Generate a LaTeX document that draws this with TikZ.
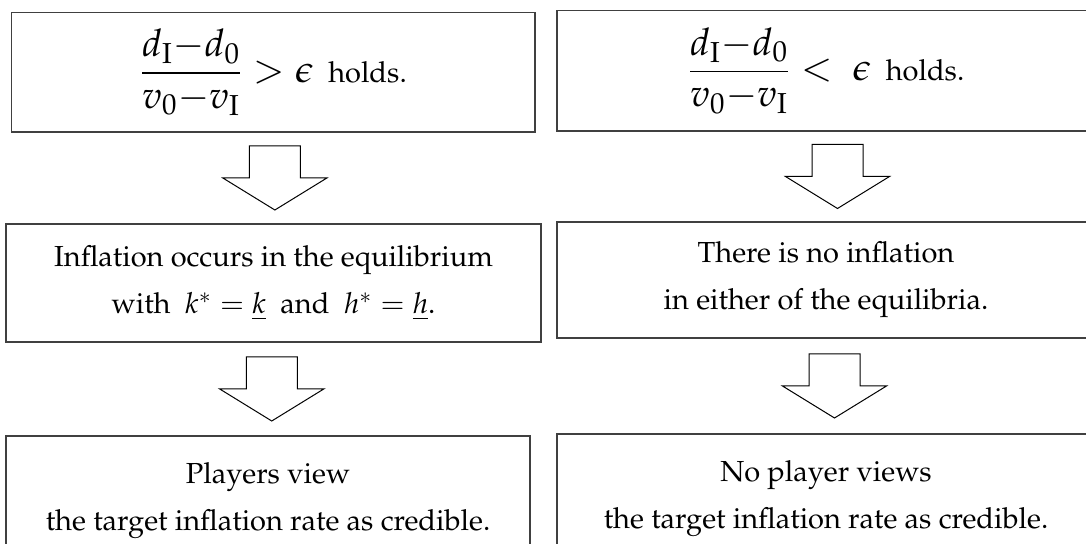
\documentclass[tikz,border=0pt]{standalone}
\usepackage[T1]{fontenc}
\usepackage{mathpazo}
\usepackage{amsmath}
\usetikzlibrary{calc}
\definecolor{boxline}{RGB}{64,64,64}
\newcommand{\bigmath}{\fontsize{19}{22}\selectfont}

\begin{document}
\begin{tikzpicture}[
    x=0.5pt, y=-0.5pt,
    cbox/.style={rectangle, draw=boxline, line width=0.65pt, align=center, inner sep=0pt, font=\fontsize{14.5}{23.5}\selectfont},
    barrow/.style={draw=black, line width=0.5pt, line join=miter}
  ]
    \useasboundingbox (0,0) rectangle (1086,544);

    % conditions
    \node[cbox, minimum width=261.75pt, minimum height=59.75pt] (l1) at (273.25,72.25) {{\bigmath$\dfrac{d_{\mathrm{I}}{-}d_0}{v_0{-}v_{\mathrm{I}}} > \epsilon$}\ \ holds.};
    \node[cbox, minimum width=269pt, minimum height=60.25pt] (r1) at (826,70.75) {{\bigmath$\dfrac{d_{\mathrm{I}}{-}d_0}{v_0{-}v_{\mathrm{I}}} < \ \epsilon$}\ \ holds.};

    % equilibria
    \node[cbox, minimum width=267.5pt, minimum height=59pt] (l2) at (273.5,283) {Inflation occurs in the equilibrium\\with~ $k^{*}=\underline{k}$ ~and~ $h^{*}=\underline{h}$.};
    \node[cbox, minimum width=269pt, minimum height=58pt] (r2) at (826,280) {There is no inflation\\in either of the equilibria.};

    % credibility
    \node[cbox, minimum width=262pt, minimum height=65pt] (l3) at (268,501) {Players view\\the target inflation rate as credible.};
    \node[cbox, minimum width=269pt, minimum height=65pt] (r3) at (826,499) {No player views\\the target inflation rate as credible.};

    % block arrows
    \foreach \a/\b/\dx in {l1/l2/1.5, l2/l3/1, r1/r2/11.5, r2/r3/8.5} {
      \path ($(\a.south)!0.5!(\b.north)$) ++(\dx,0) coordinate (m);
      \draw[barrow] (m) +(-25.5,-32) -- +(25.5,-32) -- +(25.5,0) -- +(52,0) -- +(0,32) -- +(-52,0) -- +(-25.5,0) -- cycle;
    }
\end{tikzpicture}
\end{document}
